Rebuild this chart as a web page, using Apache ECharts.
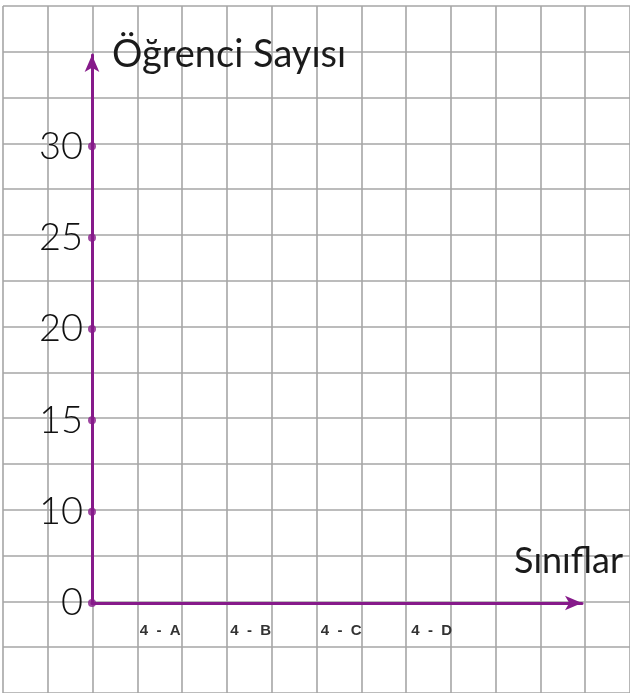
<!DOCTYPE html>
<html>
<head>
<meta charset="utf-8">
<script src="https://cdn.jsdelivr.net/npm/echarts@6/dist/echarts.min.js"></script>
<style>
  html, body { margin: 0; padding: 0; background: #fff; }
  #chart { width: 630px; height: 693px; }
</style>
</head>
<body>
<div id="chart"></div>
<script>
// siniflar (x ekseni)
var classes = ['4-A', '4-B', '4-C', '4-D'];
// y ekseni etiketleri, en ustteki bos yer ok ucu icin
var yLabels = ['0', '10', '15', '20', '25', '30', ''];
// eksen uzerindeki noktalar
var tickDots = ['0', '10', '15', '20', '25', '30'];
// kareli kagit
var paperCols = 14;
var paperRows = 15;

var purple = '#861a8a';
var chart = echarts.init(document.getElementById('chart'));

var option = {
  backgroundColor: '#fff',
  animation: false,
  grid: [
    // kareli kagit
    { left: 3, top: 6, width: 628, height: 689 },
    // asil grafik
    { left: 92, top: 55, width: 490, height: 548 },
    // sinif etiketleri
    { left: 115, top: 600, width: 362, height: 3 }
  ],
  xAxis: [
    {
      gridIndex: 0, type: 'value', min: 0, max: paperCols, interval: 1,
      axisLine: { show: false }, axisTick: { show: false }, axisLabel: { show: false },
      splitLine: { show: true, lineStyle: { color: '#a6a6a6', width: 1.6 } }
    },
    {
      gridIndex: 1, type: 'value', min: 0, max: 1, z: 5,
      axisLine: {
        show: true, lineStyle: { color: purple, width: 3 },
        symbol: ['none', 'arrow'], symbolSize: [11, 17], symbolOffset: [0, 0]
      },
      axisTick: { show: false }, axisLabel: { show: false }, splitLine: { show: false },
      name: 'Sınıflar', nameLocation: 'end', nameGap: 41,
      nameTextStyle: {
        fontFamily: 'Lato', fontSize: 36, color: '#1a1a1a',
        align: 'right', verticalAlign: 'bottom', padding: [0, 0, 24, 0]
      }
    },
    {
      gridIndex: 2, type: 'category', data: classes, boundaryGap: true,
      axisLine: { show: false }, axisTick: { show: false },
      axisLabel: {
        margin: 20, fontFamily: 'Liberation Sans', fontSize: 15, fontWeight: 'bold', color: '#333',
        formatter: function (v) { return v.replace('-', '  -  '); }
      },
      splitLine: { show: false }
    }
  ],
  yAxis: [
    {
      gridIndex: 0, type: 'value', min: 0, max: paperRows, interval: 1,
      axisLine: { show: false }, axisTick: { show: false }, axisLabel: { show: false },
      splitLine: { show: true, lineStyle: { color: '#a6a6a6', width: 1.6 } }
    },
    {
      gridIndex: 1, type: 'category', data: yLabels, boundaryGap: false, z: 5,
      axisLine: {
        show: true, lineStyle: { color: purple, width: 3 },
        symbol: ['none', 'arrow'], symbolSize: [11, 17], symbolOffset: [0, 0]
      },
      axisTick: { show: false },
      axisLabel: { margin: 9, fontFamily: 'Lato', fontSize: 38, fontWeight: 300, color: '#111' },
      splitLine: { show: false },
      name: 'Öğrenci Sayısı', nameLocation: 'end', nameGap: 0,
      nameTextStyle: {
        fontFamily: 'Lato', fontSize: 38, color: '#1a1a1a',
        align: 'left', verticalAlign: 'middle', padding: [0, 0, 0, 20]
      }
    },
    {
      gridIndex: 2, type: 'value', show: false
    }
  ],
  series: [
    {
      type: 'scatter', xAxisIndex: 1, yAxisIndex: 1, z: 10,
      symbol: 'circle', symbolSize: 8,
      itemStyle: { color: purple },
      data: tickDots.map(function (v) { return [0, v]; })
    }
  ]
};

chart.setOption(option);
</script>
</body>
</html>
